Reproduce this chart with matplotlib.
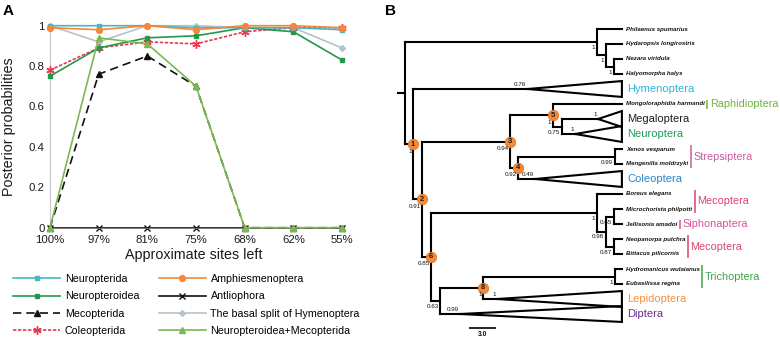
import matplotlib
matplotlib.use('Agg')
import matplotlib.pyplot as plt
import numpy as np

plt.rcParams['font.family'] = ['Liberation Sans', 'DejaVu Sans']

# ---------------- Panel A data ----------------
sites_left = ['100%', '97%', '81%', '75%', '68%', '62%', '55%']
neuropterida = [1.00, 1.00, 1.00, 0.99, 0.99, 0.99, 0.98]
neuropteroidea = [0.75, 0.89, 0.94, 0.95, 0.99, 0.97, 0.83]
mecopterida = [0.00, 0.76, 0.85, 0.70, 0.00, 0.00, 0.00]
coleopterida = [0.78, 0.89, 0.92, 0.91, 0.97, 0.99, 0.99]
amphiesmenoptera = [0.99, 0.98, 1.00, 0.98, 1.00, 1.00, 0.99]
antliophora = [0.00, 0.00, 0.00, 0.00, 0.00, 0.00, 0.00]
hymenoptera_split = [1.00, 0.92, 1.00, 1.00, 0.99, 0.99, 0.89]
neuropteroidea_mecopterida = [0.00, 0.94, 0.91, 0.70, 0.00, 0.00, 0.00]
series_labels = ['Neuropterida', 'Neuropteroidea', 'Mecopterida', 'Coleopterida',
                 'Amphiesmenoptera', 'Antliophora', 'The basal split of Hymenoptera',
                 'Neuropteroidea+Mecopterida']
y_ticks = [0, 0.2, 0.4, 0.6, 0.8, 1]
y_tick_labels = ['0', '0.2', '0.4', '0.6', '0.8', '1']

# ---------------- Panel B data (tree) ----------------
node_parent = [-1, 0, 1, 2, 0, 4, 5, 6, 7, 6, 9, 5, 11, 12, 13, 13, 11, 16, 17]
node_depth = [0.0, 21.3, 22.3, 23.2, 0.9, 1.9, 11.7, 16.4, 17.4, 12.6, 23.3,
              2.9, 21.3, 22.3, 23.2, 23.2, 3.9, 8.7, 23.3]
node_support = ['', '1', '1', '1', '1', '0.91', '0.94', '1', '0.75', '0.92', '0.99',
                '0.85', '1', '0.98', '0.65', '0.87', '0.63', '1', '1']
node_badge = ['', '', '', '', '1', '2', '3', '5', '', '4', '', '6', '', '', '', '', '', '8', '']

tip_names = ['Philaenus spumarius', 'Hydaropsis longirostris', 'Nezara viridula',
             'Halyomorpha halys', 'Hymenoptera', 'Mongoloraphidia harmandi',
             'Megaloptera', 'Neuroptera', 'Xenos vesparum', 'Mengenilla moldrzyki',
             'Coleoptera', 'Boreus elegans', 'Microchorista philpotti',
             'Jellisonia amadoi', 'Neopanorpa pulchra', 'Bittacus pilicornis',
             'Hydromanicus wulaianus', 'Eubasilissa regina', 'Lepidoptera', 'Diptera']
tip_parent = [1, 2, 3, 3, 4, 7, 8, 8, 10, 10, 9, 12, 14, 14, 15, 15, 18, 18, 17, 16]
tip_end_depth = 24.1
clade_names = ['Hymenoptera', 'Megaloptera', 'Neuroptera', 'Coleoptera', 'Lepidoptera', 'Diptera']
clade_apex = [13.6, 21.45, 18.9, 14.45, 10.2, 6.1]
clade_support = ['0.76', '1', '1', '0.49', '1', '0.99']
clade_colors = ['#2fb4da', '#1e1e1e', '#1f9a55', '#2b86c6', '#f4913d', '#6b2d8f']

group_labels = ['Raphidioptera', 'Strepsiptera', 'Mecoptera', 'Siphonaptera', 'Mecoptera', 'Trichoptera']
group_tips = [['Mongoloraphidia harmandi'],
              ['Xenos vesparum', 'Mengenilla moldrzyki'],
              ['Boreus elegans', 'Microchorista philpotti'],
              ['Jellisonia amadoi'],
              ['Neopanorpa pulchra', 'Bittacus pilicornis'],
              ['Hydromanicus wulaianus', 'Eubasilissa regina']]
group_colors = ['#6db33f', '#c65c9d', '#d9446f', '#d6529b', '#d9446f', '#3ba84a']
scale_bar_length = 3.0
scale_bar_label = '3.0'

# ---------------- figure ----------------
W, H = 780, 343
fig = plt.figure(figsize=(W / 100, H / 100), dpi=100)


def fx(px):
    return px / W


def fy(py):
    return 1 - py / H


# ---------- Panel A ----------
axA = fig.add_axes([fx(50), fy(227.7), fx(342) - fx(50), fy(25.7) - fy(227.7)])
xs = np.arange(len(sites_left))
series = [neuropterida, neuropteroidea, mecopterida, coleopterida,
          amphiesmenoptera, antliophora, hymenoptera_split, neuropteroidea_mecopterida]
styles = [
    dict(color='#45b8c2', ls='-', marker='s', ms=3.2, zorder=6),
    dict(color='#22994a', ls='-', marker='s', ms=3.4, zorder=5),
    dict(color='#111111', ls=(0, (5, 3)), marker='^', ms=4.2, zorder=3),
    dict(color='#e8384f', ls=(0, (2, 1)), marker=(6, 2, 0), ms=6, mew=1.0, zorder=4),
    dict(color='#f5863a', ls='-', marker='o', ms=4.2, zorder=7),
    dict(color='#111111', ls='-', marker='x', ms=4.0, mew=1.0, zorder=2.5),
    dict(color='#b5c2cc', ls='-', marker='D', ms=3.0, zorder=2),
    dict(color='#7cb94f', ls='-', marker='^', ms=4.2, zorder=8),
]
handles = []
for vals, st, lab in zip(series, styles, series_labels):
    st = dict(st)
    z = st.pop('zorder')
    ln, = axA.plot(xs, vals, lw=1.2, clip_on=False, zorder=z, label=lab, **st)
    handles.append(ln)

axA.set_xlim(0, len(sites_left) - 1)
axA.set_ylim(0, 1)
axA.set_xticks(xs)
axA.set_xticklabels(sites_left, fontsize=8.2, color='#1a1a1a')
axA.set_yticks(y_ticks)
axA.set_yticklabels(y_tick_labels, fontsize=8.2, color='#1a1a1a')
axA.tick_params(axis='both', length=0)
axA.tick_params(axis='x', pad=5)
axA.tick_params(axis='y', pad=4)
for s in ['top', 'right']:
    axA.spines[s].set_visible(False)
axA.spines['left'].set_color('#c8c8c8')
axA.spines['left'].set_linewidth(0.8)
axA.spines['bottom'].set_color('#888888')
axA.spines['bottom'].set_linewidth(0.6)
axA.patch.set_alpha(0)

fig.text(fx(194), fy(255), 'Approximate sites left', ha='center', va='center',
         fontsize=10.3, color='#1a1a1a')
fig.text(fx(9), fy(127), 'Posterior probabilities', ha='center', va='center',
         rotation=90, fontsize=10.3, color='#1a1a1a')

fig.legend(handles, series_labels, ncol=2, loc='upper left',
           bbox_to_anchor=(fx(13), fy(274)), frameon=False, fontsize=7.7,
           handlelength=4.4, handletextpad=0.45, columnspacing=1.8,
           labelspacing=0.68, borderpad=0, borderaxespad=0)

fig.text(fx(3), fy(11), 'A', fontsize=11, fontweight='bold', ha='left', va='center')
fig.text(fx(385), fy(11), 'B', fontsize=11, fontweight='bold', ha='left', va='center')

# ---------- Panel B ----------
PX_PER_UNIT = 9.0
X0_PX = 405.0
TIP0_PX = 29.0
TIP_STEP = 15.0
axB = fig.add_axes([fx(380), 0, fx(780) - fx(380), 1])
axB.set_xlim((380 - X0_PX) / PX_PER_UNIT, (780 - X0_PX) / PX_PER_UNIT)
axB.set_ylim((H - TIP0_PX) / TIP_STEP, (0 - TIP0_PX) / TIP_STEP)
axB.axis('off')

u_px = 1.0 / PX_PER_UNIT      # one pixel in x data units
v_px = 1.0 / TIP_STEP         # one pixel in y data units

tip_y = {name: float(i) for i, name in enumerate(tip_names)}
n_nodes = len(node_parent)
children_nodes = {i: [] for i in range(n_nodes)}
for i, p in enumerate(node_parent):
    if p >= 0:
        children_nodes[p].append(i)
children_tips = {i: [] for i in range(n_nodes)}
for name, p in zip(tip_names, tip_parent):
    children_tips[p].append(name)

node_y = {}


def compute_y(i):
    ys = [compute_y(c) for c in children_nodes[i]] + [tip_y[t] for t in children_tips[i]]
    node_y[i] = (min(ys) + max(ys)) / 2
    node_y[(i, 'min')] = min(ys)
    node_y[(i, 'max')] = max(ys)
    return node_y[i]


compute_y(0)
LW = 1.5
lkw = dict(color='black', lw=LW, solid_capstyle='projecting', zorder=2)

# root stub
axB.plot([node_depth[0] - 0.8, node_depth[0]], [node_y[0], node_y[0]], **lkw)
for i in range(n_nodes):
    d = node_depth[i]
    axB.plot([d, d], [node_y[(i, 'min')], node_y[(i, 'max')]], **lkw)
    for c in children_nodes[i]:
        axB.plot([d, node_depth[c]], [node_y[c], node_y[c]], **lkw)

tip_texts = {}
for name, p in zip(tip_names, tip_parent):
    y = tip_y[name]
    d = node_depth[p]
    if name in clade_names:
        k = clade_names.index(name)
        a = clade_apex[k]
        axB.plot([d, a], [y, y], **lkw)
        hw = 0.53
        axB.plot([a, tip_end_depth, tip_end_depth, a], [y, y - hw, y + hw, y],
                 color='black', lw=LW, solid_joinstyle='miter', zorder=2)
        axB.text(a - 0.1, y - 2 * v_px, clade_support[k], ha='right', va='bottom',
                 fontsize=4.5, color='#111111')
        axB.text(tip_end_depth + 5 * u_px, y, name, ha='left', va='center',
                 fontsize=8.0, color=clade_colors[k])
    else:
        axB.plot([d, tip_end_depth], [y, y], **lkw)
        tip_texts[name] = axB.text(tip_end_depth + 4 * u_px, y, name, ha='left',
                                   va='center', fontsize=4.4, style='italic',
                                   fontweight='bold', color='#111111')

for i in range(n_nodes):
    if node_support[i]:
        off = 4.5 if node_badge[i] else 3
        axB.text(node_depth[i] - 1.5 * u_px, node_y[i] + off * v_px, node_support[i],
                 ha='right', va='top', fontsize=4.5, color='#111111', zorder=6)
    if node_badge[i]:
        axB.scatter([node_depth[i]], [node_y[i]], s=58, color='#f28a3a',
                    edgecolors='#e27524', linewidths=0.5, zorder=5)
        axB.text(node_depth[i], node_y[i], node_badge[i], ha='center', va='center',
                 fontsize=5.5, fontweight='bold', color='#2a1a10', zorder=7)

# group bars, placed after the tip label text
fig.canvas.draw()
renderer = fig.canvas.get_renderer()
inv = axB.transData.inverted()
for lab, tips, col in zip(group_labels, group_tips, group_colors):
    xr = max(inv.transform((tip_texts[t].get_window_extent(renderer).x1, 0))[0] for t in tips)
    bx = xr + 2.5 * u_px
    ys = [tip_y[t] for t in tips]
    ext = 0.3 if len(tips) == 1 else 0.25
    axB.plot([bx, bx], [min(ys) - ext, max(ys) + ext], color=col, lw=1.1,
             solid_capstyle='butt')
    axB.text(bx + 2.5 * u_px, np.mean(ys), lab, ha='left', va='center',
             fontsize=7.8, color=col)

# scale bar
sb_x0 = (469 - X0_PX) / PX_PER_UNIT
sb_y = (328 - TIP0_PX) / TIP_STEP
axB.plot([sb_x0, sb_x0 + scale_bar_length], [sb_y, sb_y], color='black', lw=1.2,
         solid_capstyle='butt')
axB.text(sb_x0 + scale_bar_length / 2, sb_y + 2.5 * v_px, scale_bar_label,
         ha='center', va='top', fontsize=4.8, fontweight='bold', color='#111111')

fig.savefig('out.png', dpi=100)
